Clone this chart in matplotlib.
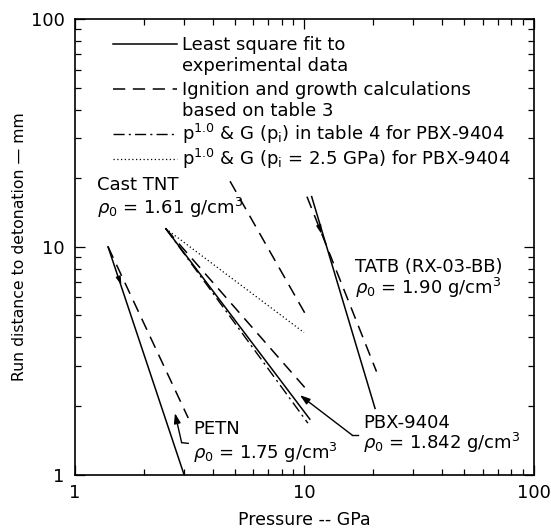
import matplotlib
matplotlib.use("Agg")
import matplotlib.pyplot as plt
from matplotlib.ticker import LogLocator, NullFormatter, FixedLocator, FixedFormatter

plt.rcParams['font.family'] = ['DejaVu Sans']
plt.rcParams['mathtext.fontset'] = 'dejavusans'

# run distance (mm) versus pressure (GPa), end points of each straight log-log line
petn_fit_p = [1.4, 3.0]
petn_fit_x = [10.0, 1.0]
petn_calc_p = [1.4, 3.13]
petn_calc_x = [10.0, 1.77]

tnt_calc_p = [4.76, 10.1]
tnt_calc_x = [19.4, 5.1]

pbx_fit_p = [2.5, 10.6]
pbx_fit_x = [12.0, 1.75]
pbx_calc_p = [2.5, 10.3]
pbx_calc_x = [12.0, 2.35]
pbx_pi_p = [2.5, 10.4]
pbx_pi_x = [12.0, 1.68]
pbx_p25_p = [2.5, 10.0]
pbx_p25_x = [12.0, 4.2]

tatb_fit_p = [10.8, 20.4]
tatb_fit_x = [16.6, 1.95]
tatb_calc_p = [10.3, 20.7]
tatb_calc_x = [16.6, 2.83]

legend_labels = [
    "Least square fit to",
    "experimental data",
    "Ignition and growth calculations",
    "based on table 3",
    r"p$^{1.0}$ & G (p$_\mathrm{i}$) in table 4 for PBX-9404",
    r"p$^{1.0}$ & G (p$_\mathrm{i}$ = 2.5 GPa) for PBX-9404",
]

solid = dict(color='black', lw=1.1, ls='-')
dashed = dict(color='black', lw=1.1, ls=(0, (8, 5)))
dashdot = dict(color='black', lw=1.0, ls=(0, (8, 3, 1.5, 3)))
dotted = dict(color='black', lw=0.9, ls=(0, (1, 2)))
legend_styles = [solid, None, dashed, None, dashdot, dotted]

W, H = 551, 531
L, R, T, B = 74.5, 533.5, 19.0, 474.5

fig = plt.figure(figsize=(W / 100, H / 100), dpi=100)
ax = fig.add_axes([L / W, (H - B) / H, (R - L) / W, (B - T) / H])
ax.set_xscale('log')
ax.set_yscale('log')
ax.set_xlim(1, 100)
ax.set_ylim(1, 100)

ax.plot(petn_fit_p, petn_fit_x, **solid)
ax.plot(petn_calc_p, petn_calc_x, **dashed)
ax.plot(tnt_calc_p, tnt_calc_x, **dashed)
ax.plot(pbx_fit_p, pbx_fit_x, **solid)
ax.plot(pbx_calc_p, pbx_calc_x, **dashed)
ax.plot(pbx_pi_p, pbx_pi_x, **dashdot)
ax.plot(pbx_p25_p, pbx_p25_x, **dotted)
ax.plot(tatb_fit_p, tatb_fit_x, **solid)
ax.plot(tatb_calc_p, tatb_calc_x, **dashed)

# leader arrows for the PETN and PBX-9404 labels
arrow = dict(arrowstyle='-|>,head_length=0.6,head_width=0.2', color='black', lw=1.0,
             shrinkA=0, shrinkB=0)
ax.plot([3.13, 2.93], [1.37, 1.38], color='black', lw=1.0)
ax.annotate('', xy=(2.74, 1.86), xytext=(2.93, 1.38), arrowprops=arrow)
ax.plot([17.2, 16.2], [1.49, 1.49], color='black', lw=1.0)
ax.annotate('', xy=(9.6, 2.23), xytext=(16.2, 1.49), arrowprops=arrow)

# small direction marks along the fitted lines
tick_arrow = dict(arrowstyle='-|>,head_length=0.5,head_width=0.15', color='black', lw=0.8,
                  shrinkA=0, shrinkB=0)
ax.annotate('', xy=(1.6, 6.8), xytext=(1.55, 7.4), arrowprops=tick_arrow)
ax.annotate('', xy=(11.9, 11.4), xytext=(11.6, 12.4), arrowprops=tick_arrow)

fs = 13
ax.text(1.25, 18.7, "Cast TNT", fontsize=fs, va='center')
ax.text(1.25, 14.8, r"$\rho_0$ = 1.61 g/cm$^3$", fontsize=fs, va='center')
ax.text(16.7, 8.15, "TATB (RX-03-BB)", fontsize=fs, va='center')
ax.text(16.7, 6.59, r"$\rho_0$ = 1.90 g/cm$^3$", fontsize=fs, va='center')
ax.text(18.1, 1.68, "PBX-9404", fontsize=fs, va='center')
ax.text(18.1, 1.375, r"$\rho_0$ = 1.842 g/cm$^3$", fontsize=fs, va='center')
ax.text(3.28, 1.585, "PETN", fontsize=fs, va='center')
ax.text(3.28, 1.243, r"$\rho_0$ = 1.75 g/cm$^3$", fontsize=fs, va='center')

# key in the upper left corner: sample line followed by its text, baselines in pixels
row_base = [50, 71, 95, 116, 140, 165]
hx0, hx1, tx = (113 - L) / (R - L), (177 - L) / (R - L), (182 - L) / (R - L)
for lab, st, yb in zip(legend_labels, legend_styles, row_base):
    yf = (B - yb) / (B - T)
    ax.text(tx, yf, lab, fontsize=fs, va='baseline', transform=ax.transAxes)
    if st is not None:
        yl = (B - (yb - 6.5)) / (B - T)
        ax.plot([hx0, hx1], [yl, yl], transform=ax.transAxes, **st)

ax.xaxis.set_major_locator(FixedLocator([1, 10, 100]))
ax.xaxis.set_major_formatter(FixedFormatter(['1', '10', '100']))
ax.yaxis.set_major_locator(FixedLocator([1, 10, 100]))
ax.yaxis.set_major_formatter(FixedFormatter(['1', '10', '100']))
for axis in (ax.xaxis, ax.yaxis):
    axis.set_minor_locator(LogLocator(base=10, subs=range(2, 10)))
    axis.set_minor_formatter(NullFormatter())
ax.tick_params(which='both', direction='in', top=True, right=True, labelsize=13, width=0.9)
ax.tick_params(which='major', length=7, pad=7)
ax.tick_params(which='minor', length=4)
for s in ax.spines.values():
    s.set_linewidth(1.2)

ax.set_xlabel("Pressure -- GPa", fontsize=12.5, labelpad=6)
ax.set_ylabel("Run distance to detonation — mm", fontsize=11.3, labelpad=3)

fig.savefig("out.png", dpi=100)
